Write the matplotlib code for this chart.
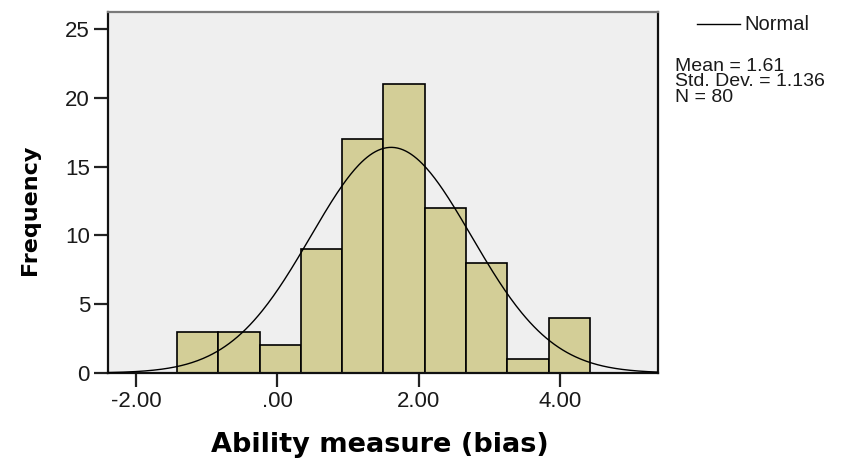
import numpy as np
import matplotlib
matplotlib.use("Agg")
import matplotlib.pyplot as plt

# Histogram of ability measures (bias), 10 bins
bin_edges = [-1.418, -0.834, -0.250, 0.334, 0.918, 1.502, 2.086, 2.670, 3.254, 3.838, 4.422]
counts = [3, 3, 2, 9, 17, 21, 12, 8, 1, 4]

# Summary statistics for the normal overlay
mean = 1.61
std_dev = 1.136
n_obs = 80

x_ticks = [-2, 0, 2, 4]
x_tick_labels = ["-2.00", ".00", "2.00", "4.00"]
y_ticks = [0, 5, 10, 15, 20, 25]

BAR_COLOR = "#D3CE97"
PLOT_BG = "#EFEFEF"


def main() -> None:
    fig = plt.figure(figsize=(8.63, 4.71), dpi=100)
    fig.patch.set_facecolor("white")

    W, H = 863, 471
    left, right, top, bottom = 108, 658, 12, 373
    ax = fig.add_axes([left / W, 1 - bottom / H, (right - left) / W, (bottom - top) / H])
    ax.set_facecolor(PLOT_BG)

    # ------------------------------------------------------------------
    # Bars
    # ------------------------------------------------------------------
    edges = np.array(bin_edges)
    widths = np.diff(edges)
    ax.bar(
        edges[:-1],
        counts,
        width=widths,
        align="edge",
        color=BAR_COLOR,
        edgecolor="black",
        linewidth=1.2,
        zorder=2,
    )

    # ------------------------------------------------------------------
    # Normal curve scaled to counts
    # ------------------------------------------------------------------
    xmin, xmax = -2.395, 5.385
    xs = np.linspace(xmin, xmax, 400)
    bw = widths.mean()
    pdf = np.exp(-0.5 * ((xs - mean) / std_dev) ** 2) / (std_dev * np.sqrt(2 * np.pi))
    ax.plot(xs, n_obs * bw * pdf, color="black", linewidth=1.0, zorder=3)

    ax.set_xlim(xmin, xmax)
    ax.set_ylim(0, 26.25)

    ax.set_xticks(x_ticks)
    ax.set_xticklabels(x_tick_labels)
    ax.set_yticks(y_ticks)
    ax.tick_params(
        axis="both",
        direction="out",
        length=10,
        width=1.6,
        color="#222222",
        labelsize=16,
        pad=3,
    )
    for lab in ax.get_xticklabels() + ax.get_yticklabels():
        lab.set_family("Liberation Sans")
        lab.set_color("#1a1a1a")

    for side in ("left", "bottom", "right"):
        ax.spines[side].set_color("#111111")
        ax.spines[side].set_linewidth(1.6)
    ax.spines["top"].set_color("#7a7a7a")
    ax.spines["top"].set_linewidth(1.6)

    # ------------------------------------------------------------------
    # Axis labels
    # ------------------------------------------------------------------
    ax.set_xlabel("Ability measure (bias)", family="DejaVu Sans",
                  fontweight="bold", fontsize=19.5)
    ax.xaxis.set_label_coords((380 - left) / (right - left), -(432 - bottom) / (bottom - top))
    ax.set_ylabel("Frequency", family="DejaVu Sans", fontweight="bold", fontsize=16)
    ax.yaxis.set_label_coords((40 - left) / (right - left), (bottom - 210) / (bottom - top))

    # ------------------------------------------------------------------
    # Legend and statistics box
    # ------------------------------------------------------------------
    fig.add_artist(
        plt.Line2D([697 / W, 740 / W], [1 - 24 / H, 1 - 24 / H],
                   color="black", linewidth=1.0)
    )
    fig.text(744 / W, 1 - 24 / H, "Normal", family="Liberation Sans",
             fontsize=14.5, va="center", ha="left", color="#1a1a1a")

    stats_text = "\n".join([
        f"Mean = {mean:.2f}",
        f"Std. Dev. = {std_dev:.3f}",
        f"N = {n_obs}",
    ])
    fig.text(675 / W, 1 - 58 / H, stats_text, family="Liberation Sans",
             fontsize=14, va="top", ha="left", linespacing=0.87,
             color="#1a1a1a")

    fig.savefig("out.png", dpi=100)
    plt.close(fig)


if __name__ == "__main__":
    main()
